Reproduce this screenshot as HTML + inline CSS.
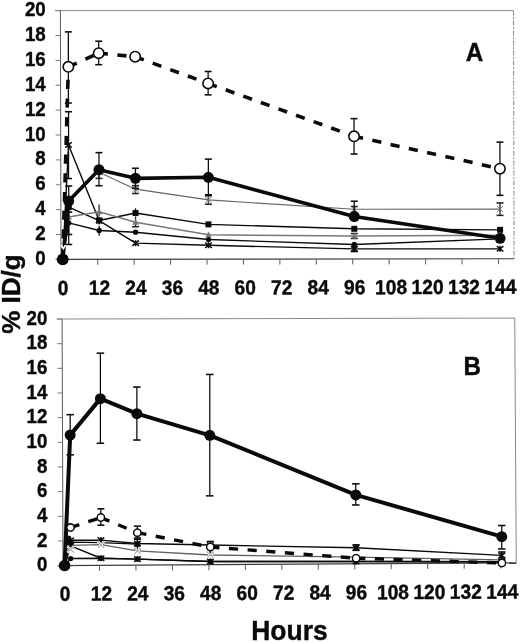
<!DOCTYPE html>
<html><head><meta charset="utf-8"><title>Chart</title>
<style>
html,body{margin:0;padding:0;background:#fff;}
body{width:520px;height:643px;overflow:hidden;}
svg{display:block;filter:grayscale(1);}
text{font-family:"Liberation Sans",sans-serif;font-weight:bold;fill:#0a0a0a;stroke:#0a0a0a;stroke-width:0.38px;}
</style></head><body>
<svg width="520" height="643" viewBox="0 0 520 643">
<rect width="520" height="643" fill="#fff"/>
<g>
<line x1="55.00" y1="10.60" x2="513.50" y2="10.60" stroke="#8a8a8a" stroke-width="1.0" />
<line x1="513.50" y1="10.60" x2="514.10" y2="258.75" stroke="#8a8a8a" stroke-width="1.0" stroke-dasharray="5 1.5 2 1.5"/>
<line x1="60.40" y1="10.60" x2="61.00" y2="259.40" stroke="#5a5a5a" stroke-width="1.0" />
<line x1="55.60" y1="259.40" x2="514.10" y2="258.75" stroke="#3c3c3c" stroke-width="1.15" />
<line x1="56.00" y1="259.40" x2="61.00" y2="259.40" stroke="#7a7a7a" stroke-width="1.0" />
<line x1="55.94" y1="234.52" x2="60.94" y2="234.52" stroke="#7a7a7a" stroke-width="1.0" />
<line x1="55.88" y1="209.64" x2="60.88" y2="209.64" stroke="#7a7a7a" stroke-width="1.0" />
<line x1="55.82" y1="184.76" x2="60.82" y2="184.76" stroke="#7a7a7a" stroke-width="1.0" />
<line x1="55.76" y1="159.88" x2="60.76" y2="159.88" stroke="#7a7a7a" stroke-width="1.0" />
<line x1="55.70" y1="135.00" x2="60.70" y2="135.00" stroke="#7a7a7a" stroke-width="1.0" />
<line x1="55.64" y1="110.12" x2="60.64" y2="110.12" stroke="#7a7a7a" stroke-width="1.0" />
<line x1="55.58" y1="85.24" x2="60.58" y2="85.24" stroke="#7a7a7a" stroke-width="1.0" />
<line x1="55.52" y1="60.36" x2="60.52" y2="60.36" stroke="#7a7a7a" stroke-width="1.0" />
<line x1="55.46" y1="35.48" x2="60.46" y2="35.48" stroke="#7a7a7a" stroke-width="1.0" />
<line x1="55.40" y1="10.60" x2="60.40" y2="10.60" stroke="#7a7a7a" stroke-width="1.0" />
<line x1="61.30" y1="259.40" x2="61.30" y2="264.90" stroke="#5a5a5a" stroke-width="1.0" />
<line x1="97.73" y1="259.35" x2="97.73" y2="264.85" stroke="#5a5a5a" stroke-width="1.0" />
<line x1="134.16" y1="259.30" x2="134.16" y2="264.80" stroke="#5a5a5a" stroke-width="1.0" />
<line x1="170.59" y1="259.24" x2="170.59" y2="264.74" stroke="#5a5a5a" stroke-width="1.0" />
<line x1="207.02" y1="259.19" x2="207.02" y2="264.69" stroke="#5a5a5a" stroke-width="1.0" />
<line x1="243.45" y1="259.14" x2="243.45" y2="264.64" stroke="#5a5a5a" stroke-width="1.0" />
<line x1="279.88" y1="259.09" x2="279.88" y2="264.59" stroke="#5a5a5a" stroke-width="1.0" />
<line x1="316.31" y1="259.03" x2="316.31" y2="264.53" stroke="#5a5a5a" stroke-width="1.0" />
<line x1="352.74" y1="258.98" x2="352.74" y2="264.48" stroke="#5a5a5a" stroke-width="1.0" />
<line x1="389.17" y1="258.93" x2="389.17" y2="264.43" stroke="#5a5a5a" stroke-width="1.0" />
<line x1="425.60" y1="258.88" x2="425.60" y2="264.38" stroke="#5a5a5a" stroke-width="1.0" />
<line x1="462.03" y1="258.82" x2="462.03" y2="264.32" stroke="#5a5a5a" stroke-width="1.0" />
<line x1="498.46" y1="258.77" x2="498.46" y2="264.27" stroke="#5a5a5a" stroke-width="1.0" />
<path d="M98.99 172.28 L135.48 189.16 L208.41 199.90 L354.23 209.30 L500.03 209.14" stroke="#666" stroke-width="1.1" fill="none" stroke-linejoin="round"/>
<line x1="98.99" y1="167.31" x2="98.99" y2="178.38" stroke="#222" stroke-width="1.25" />
<line x1="95.49" y1="167.31" x2="102.49" y2="167.31" stroke="#222" stroke-width="1.55" />
<line x1="95.49" y1="178.38" x2="102.49" y2="178.38" stroke="#222" stroke-width="1.55" />
<line x1="135.48" y1="185.68" x2="135.48" y2="193.51" stroke="#222" stroke-width="1.25" />
<line x1="131.98" y1="185.68" x2="138.98" y2="185.68" stroke="#222" stroke-width="1.55" />
<line x1="131.98" y1="193.51" x2="138.98" y2="193.51" stroke="#222" stroke-width="1.55" />
<line x1="208.41" y1="195.80" x2="208.41" y2="204.25" stroke="#222" stroke-width="1.25" />
<line x1="204.91" y1="195.80" x2="211.91" y2="195.80" stroke="#222" stroke-width="1.55" />
<line x1="204.91" y1="204.25" x2="211.91" y2="204.25" stroke="#222" stroke-width="1.55" />
<line x1="354.23" y1="206.45" x2="354.23" y2="209.55" stroke="#222" stroke-width="1.25" />
<line x1="350.73" y1="206.45" x2="357.73" y2="206.45" stroke="#222" stroke-width="1.55" />
<line x1="500.03" y1="202.93" x2="500.03" y2="215.34" stroke="#222" stroke-width="1.25" />
<line x1="496.53" y1="202.93" x2="503.53" y2="202.93" stroke="#222" stroke-width="1.55" />
<line x1="496.53" y1="215.34" x2="503.53" y2="215.34" stroke="#222" stroke-width="1.55" />
<path d="M95.99 169.28 L101.99 175.28 M95.99 175.28 L101.99 169.28 M98.99 168.98 L98.99 175.58" stroke="#666" stroke-width="0.9" fill="none"/>
<path d="M132.48 186.16 L138.48 192.16 M132.48 192.16 L138.48 186.16 M135.48 185.86 L135.48 192.46" stroke="#666" stroke-width="0.9" fill="none"/>
<path d="M205.41 196.90 L211.41 202.90 M205.41 202.90 L211.41 196.90 M208.41 196.60 L208.41 203.20" stroke="#666" stroke-width="0.9" fill="none"/>
<path d="M351.23 206.30 L357.23 212.30 M351.23 212.30 L357.23 206.30 M354.23 206.00 L354.23 212.60" stroke="#666" stroke-width="0.9" fill="none"/>
<path d="M497.03 206.14 L503.03 212.14 M497.03 212.14 L503.03 206.14 M500.03 205.84 L500.03 212.44" stroke="#666" stroke-width="0.9" fill="none"/>
<path d="M62.75 259.40 L68.55 144.95 L99.11 220.54 L135.61 243.13 L208.52 245.27 L354.33 248.92 L500.13 248.84" stroke="#0a0a0a" stroke-width="1.4" fill="none" stroke-linejoin="round"/>
<line x1="68.55" y1="111.73" x2="68.55" y2="178.53" stroke="#0a0a0a" stroke-width="1.25" />
<line x1="65.05" y1="111.73" x2="72.05" y2="111.73" stroke="#0a0a0a" stroke-width="1.55" />
<line x1="65.05" y1="178.53" x2="72.05" y2="178.53" stroke="#0a0a0a" stroke-width="1.55" />
<line x1="354.33" y1="246.56" x2="354.33" y2="251.53" stroke="#0a0a0a" stroke-width="1.25" />
<line x1="350.83" y1="246.56" x2="357.83" y2="246.56" stroke="#0a0a0a" stroke-width="1.55" />
<line x1="350.83" y1="251.53" x2="357.83" y2="251.53" stroke="#0a0a0a" stroke-width="1.55" />
<path d="M65.25 142.25 L71.85 147.65 M65.25 147.65 L71.85 142.25 M68.55 141.95 L68.55 147.95" stroke="#0a0a0a" stroke-width="1.5" fill="none"/>
<path d="M95.81 217.84 L102.41 223.24 M95.81 223.24 L102.41 217.84 M99.11 217.54 L99.11 223.54" stroke="#0a0a0a" stroke-width="1.5" fill="none"/>
<path d="M132.31 240.43 L138.91 245.83 M132.31 245.83 L138.91 240.43 M135.61 240.13 L135.61 246.13" stroke="#0a0a0a" stroke-width="1.5" fill="none"/>
<path d="M205.22 242.57 L211.82 247.97 M205.22 247.97 L211.82 242.57 M208.52 242.27 L208.52 248.27" stroke="#0a0a0a" stroke-width="1.5" fill="none"/>
<path d="M351.03 246.22 L357.63 251.62 M351.03 251.62 L357.63 246.22 M354.33 245.92 L354.33 251.92" stroke="#0a0a0a" stroke-width="1.5" fill="none"/>
<path d="M496.83 246.14 L503.43 251.54 M496.83 251.54 L503.43 246.14 M500.13 245.84 L500.13 251.84" stroke="#0a0a0a" stroke-width="1.5" fill="none"/>
<path d="M62.75 259.40 L68.70 207.14 L99.11 220.54 L135.54 213.04 L208.47 224.39 L354.28 228.80 L500.08 229.86" stroke="#0a0a0a" stroke-width="1.4" fill="none" stroke-linejoin="round"/>
<line x1="68.72" y1="186.00" x2="68.72" y2="244.46" stroke="#0a0a0a" stroke-width="1.25" />
<line x1="65.22" y1="186.00" x2="72.22" y2="186.00" stroke="#0a0a0a" stroke-width="1.55" />
<line x1="65.22" y1="244.46" x2="72.22" y2="244.46" stroke="#0a0a0a" stroke-width="1.55" />
<line x1="99.11" y1="217.06" x2="99.11" y2="224.52" stroke="#0a0a0a" stroke-width="1.25" />
<line x1="135.54" y1="208.31" x2="135.54" y2="215.77" stroke="#0a0a0a" stroke-width="1.25" />
<rect x="65.70" y="204.14" width="6.0" height="6.0" fill="#0a0a0a"/>
<rect x="96.11" y="217.54" width="6.0" height="6.0" fill="#0a0a0a"/>
<rect x="132.54" y="210.04" width="6.0" height="6.0" fill="#0a0a0a"/>
<rect x="205.47" y="221.39" width="6.0" height="6.0" fill="#0a0a0a"/>
<rect x="351.28" y="225.80" width="6.0" height="6.0" fill="#0a0a0a"/>
<rect x="497.08" y="226.86" width="6.0" height="6.0" fill="#0a0a0a"/>
<path d="M62.75 259.40 L68.72 217.09 L99.09 211.83 L135.56 222.24 L208.49 234.83 L354.29 236.00 L500.09 235.19" stroke="#787878" stroke-width="1.5" fill="none" stroke-linejoin="round"/>
<line x1="99.08" y1="204.62" x2="99.08" y2="216.44" stroke="#222" stroke-width="1.25" />
<line x1="135.56" y1="216.39" x2="135.56" y2="226.71" stroke="#222" stroke-width="1.25" />
<line x1="132.06" y1="226.71" x2="139.06" y2="226.71" stroke="#222" stroke-width="1.55" />
<line x1="354.29" y1="233.52" x2="354.29" y2="238.49" stroke="#222" stroke-width="1.25" />
<line x1="350.79" y1="233.52" x2="357.79" y2="233.52" stroke="#222" stroke-width="1.55" />
<line x1="350.79" y1="238.49" x2="357.79" y2="238.49" stroke="#222" stroke-width="1.55" />
<path d="M68.72 213.79 L72.02 219.57 L65.42 219.57 Z" fill="#787878"/>
<path d="M99.09 208.53 L102.39 214.31 L95.79 214.31 Z" fill="#787878"/>
<path d="M135.56 218.94 L138.86 224.71 L132.26 224.71 Z" fill="#787878"/>
<path d="M208.49 231.53 L211.79 237.30 L205.19 237.30 Z" fill="#787878"/>
<path d="M354.29 232.70 L357.59 238.48 L350.99 238.48 Z" fill="#787878"/>
<path d="M500.09 231.89 L503.39 237.67 L496.79 237.67 Z" fill="#787878"/>
<path d="M62.75 259.40 L68.74 222.94 L99.13 230.49 L135.58 232.19 L208.50 239.55 L354.31 244.45 L500.10 238.92" stroke="#0a0a0a" stroke-width="1.4" fill="none" stroke-linejoin="round"/>
<line x1="68.74" y1="212.12" x2="68.74" y2="234.51" stroke="#0a0a0a" stroke-width="1.25" />
<line x1="65.24" y1="212.12" x2="72.24" y2="212.12" stroke="#0a0a0a" stroke-width="1.55" />
<line x1="65.24" y1="234.51" x2="72.24" y2="234.51" stroke="#0a0a0a" stroke-width="1.55" />
<line x1="99.13" y1="225.76" x2="99.13" y2="235.71" stroke="#0a0a0a" stroke-width="1.25" />
<circle cx="68.74" cy="222.94" r="2.65" fill="#0a0a0a"/>
<circle cx="99.13" cy="230.49" r="2.65" fill="#0a0a0a"/>
<circle cx="135.58" cy="232.19" r="2.65" fill="#0a0a0a"/>
<circle cx="208.50" cy="239.55" r="2.65" fill="#0a0a0a"/>
<circle cx="354.31" cy="244.45" r="2.65" fill="#0a0a0a"/>
<circle cx="500.10" cy="238.92" r="2.65" fill="#0a0a0a"/>
<path d="M62.75 259.40 L68.68 201.05 L98.98 169.67 L135.45 178.34 L208.35 177.28 L354.25 216.51 L500.10 238.30" stroke="#0a0a0a" stroke-width="3.6" fill="none" stroke-linejoin="round"/>
<line x1="98.98" y1="152.63" x2="98.98" y2="185.72" stroke="#0a0a0a" stroke-width="1.25" />
<line x1="95.48" y1="152.63" x2="102.48" y2="152.63" stroke="#0a0a0a" stroke-width="1.55" />
<line x1="95.48" y1="185.72" x2="102.48" y2="185.72" stroke="#0a0a0a" stroke-width="1.55" />
<line x1="135.45" y1="168.27" x2="135.45" y2="188.42" stroke="#0a0a0a" stroke-width="1.25" />
<line x1="131.95" y1="168.27" x2="138.95" y2="168.27" stroke="#0a0a0a" stroke-width="1.55" />
<line x1="131.95" y1="188.42" x2="138.95" y2="188.42" stroke="#0a0a0a" stroke-width="1.55" />
<line x1="208.35" y1="159.13" x2="208.35" y2="194.80" stroke="#0a0a0a" stroke-width="1.25" />
<line x1="204.85" y1="159.13" x2="211.85" y2="159.13" stroke="#0a0a0a" stroke-width="1.55" />
<line x1="204.85" y1="194.80" x2="211.85" y2="194.80" stroke="#0a0a0a" stroke-width="1.55" />
<line x1="354.23" y1="201.23" x2="354.23" y2="216.51" stroke="#0a0a0a" stroke-width="1.25" />
<line x1="350.73" y1="201.23" x2="357.73" y2="201.23" stroke="#0a0a0a" stroke-width="1.55" />
<circle cx="62.75" cy="259.40" r="5.5" fill="#0a0a0a"/>
<circle cx="68.68" cy="201.05" r="5.5" fill="#0a0a0a"/>
<circle cx="98.98" cy="169.67" r="5.5" fill="#0a0a0a"/>
<circle cx="135.45" cy="178.34" r="5.5" fill="#0a0a0a"/>
<circle cx="208.35" cy="177.28" r="5.5" fill="#0a0a0a"/>
<circle cx="354.25" cy="216.51" r="5.5" fill="#0a0a0a"/>
<circle cx="500.10" cy="238.30" r="5.5" fill="#0a0a0a"/>
<line x1="62.75" y1="259.40" x2="68.36" y2="66.83" stroke="#0a0a0a" stroke-width="3.6" stroke-dasharray="9.2 9.5" stroke-dashoffset="-2.2"/>
<line x1="68.36" y1="66.83" x2="98.70" y2="53.14" stroke="#0a0a0a" stroke-width="3.6" stroke-dasharray="9.2 9.5"/>
<line x1="98.70" y1="53.14" x2="135.16" y2="56.73" stroke="#0a0a0a" stroke-width="3.6" stroke-dasharray="9.2 9.5"/>
<line x1="135.16" y1="56.73" x2="208.13" y2="83.44" stroke="#0a0a0a" stroke-width="3.6" stroke-dasharray="9.2 9.5"/>
<line x1="208.13" y1="83.44" x2="354.05" y2="136.28" stroke="#0a0a0a" stroke-width="3.6" stroke-dasharray="9.2 9.5"/>
<line x1="354.05" y1="136.28" x2="499.93" y2="168.68" stroke="#0a0a0a" stroke-width="3.6" stroke-dasharray="9.2 9.5"/>
<line x1="68.36" y1="31.87" x2="68.36" y2="103.03" stroke="#0a0a0a" stroke-width="1.25" />
<line x1="64.86" y1="31.87" x2="71.86" y2="31.87" stroke="#0a0a0a" stroke-width="1.55" />
<line x1="64.86" y1="103.03" x2="71.86" y2="103.03" stroke="#0a0a0a" stroke-width="1.55" />
<line x1="98.70" y1="41.20" x2="98.70" y2="64.70" stroke="#0a0a0a" stroke-width="1.25" />
<line x1="95.20" y1="41.20" x2="102.20" y2="41.20" stroke="#0a0a0a" stroke-width="1.55" />
<line x1="95.20" y1="64.70" x2="102.20" y2="64.70" stroke="#0a0a0a" stroke-width="1.55" />
<line x1="208.13" y1="71.50" x2="208.13" y2="94.87" stroke="#0a0a0a" stroke-width="1.25" />
<line x1="204.63" y1="71.50" x2="211.63" y2="71.50" stroke="#0a0a0a" stroke-width="1.55" />
<line x1="204.63" y1="94.87" x2="211.63" y2="94.87" stroke="#0a0a0a" stroke-width="1.55" />
<line x1="354.05" y1="118.64" x2="354.05" y2="154.04" stroke="#0a0a0a" stroke-width="1.25" />
<line x1="350.55" y1="118.64" x2="357.55" y2="118.64" stroke="#0a0a0a" stroke-width="1.55" />
<line x1="350.55" y1="154.04" x2="357.55" y2="154.04" stroke="#0a0a0a" stroke-width="1.55" />
<line x1="499.93" y1="142.13" x2="499.93" y2="195.36" stroke="#0a0a0a" stroke-width="1.25" />
<line x1="496.43" y1="142.13" x2="503.43" y2="142.13" stroke="#0a0a0a" stroke-width="1.55" />
<line x1="496.43" y1="195.36" x2="503.43" y2="195.36" stroke="#0a0a0a" stroke-width="1.55" />
<circle cx="68.36" cy="66.83" r="5.2" fill="#fff" stroke="#0a0a0a" stroke-width="1.6"/>
<circle cx="98.70" cy="53.14" r="5.2" fill="#fff" stroke="#0a0a0a" stroke-width="1.6"/>
<circle cx="135.16" cy="56.73" r="5.2" fill="#fff" stroke="#0a0a0a" stroke-width="1.6"/>
<circle cx="208.13" cy="83.44" r="5.2" fill="#fff" stroke="#0a0a0a" stroke-width="1.6"/>
<circle cx="354.05" cy="136.28" r="5.2" fill="#fff" stroke="#0a0a0a" stroke-width="1.6"/>
<circle cx="499.93" cy="168.68" r="5.2" fill="#fff" stroke="#0a0a0a" stroke-width="1.6"/>
<path d="M61.3 245 L63.4 248.6 L65.6 245" stroke="#fff" stroke-width="1.6" fill="none"/>
<circle cx="62.75" cy="259.40" r="5.885000000000001" fill="#0a0a0a"/>
</g>
<text transform="translate(45.70 265.00) scale(0.975 1.06)" font-size="19.2" text-anchor="end" >0</text>
<text transform="translate(45.70 240.12) scale(0.975 1.06)" font-size="19.2" text-anchor="end" >2</text>
<text transform="translate(45.70 215.24) scale(0.975 1.06)" font-size="19.2" text-anchor="end" >4</text>
<text transform="translate(45.70 190.36) scale(0.975 1.06)" font-size="19.2" text-anchor="end" >6</text>
<text transform="translate(45.70 165.48) scale(0.975 1.06)" font-size="19.2" text-anchor="end" >8</text>
<text transform="translate(45.70 140.60) scale(0.975 1.06)" font-size="19.2" text-anchor="end" >10</text>
<text transform="translate(45.70 115.72) scale(0.975 1.06)" font-size="19.2" text-anchor="end" >12</text>
<text transform="translate(45.70 90.84) scale(0.975 1.06)" font-size="19.2" text-anchor="end" >14</text>
<text transform="translate(45.70 65.96) scale(0.975 1.06)" font-size="19.2" text-anchor="end" >16</text>
<text transform="translate(45.70 41.08) scale(0.975 1.06)" font-size="19.2" text-anchor="end" >18</text>
<text transform="translate(45.70 16.20) scale(0.975 1.06)" font-size="19.2" text-anchor="end" >20</text>
<g transform="rotate(-0.137 63 294.9)">
<text transform="translate(63.05 294.90) scale(1.0 1.06)" font-size="19.2" text-anchor="middle" >0</text>
<text transform="translate(99.50 294.90) scale(1.0 1.06)" font-size="19.2" text-anchor="middle" >12</text>
<text transform="translate(135.95 294.90) scale(1.0 1.06)" font-size="19.2" text-anchor="middle" >24</text>
<text transform="translate(172.40 294.90) scale(1.0 1.06)" font-size="19.2" text-anchor="middle" >36</text>
<text transform="translate(208.85 294.90) scale(1.0 1.06)" font-size="19.2" text-anchor="middle" >48</text>
<text transform="translate(245.30 294.90) scale(1.0 1.06)" font-size="19.2" text-anchor="middle" >60</text>
<text transform="translate(281.75 294.90) scale(1.0 1.06)" font-size="19.2" text-anchor="middle" >72</text>
<text transform="translate(318.20 294.90) scale(1.0 1.06)" font-size="19.2" text-anchor="middle" >84</text>
<text transform="translate(354.65 294.90) scale(1.0 1.06)" font-size="19.2" text-anchor="middle" >96</text>
<text transform="translate(391.10 294.90) scale(1.0 1.06)" font-size="19.2" text-anchor="middle" >108</text>
<text transform="translate(427.55 294.90) scale(1.0 1.06)" font-size="19.2" text-anchor="middle" >120</text>
<text transform="translate(464.00 294.90) scale(1.0 1.06)" font-size="19.2" text-anchor="middle" >132</text>
<text transform="translate(500.45 294.90) scale(1.0 1.06)" font-size="19.2" text-anchor="middle" >144</text>
</g>
<text transform="translate(474.40 61.00) scale(0.95 1.0)" font-size="25.5" text-anchor="middle" stroke-width="0.35">A</text>
<g>
<line x1="56.70" y1="319.00" x2="514.75" y2="318.10" stroke="#8a8a8a" stroke-width="1.0" />
<line x1="514.75" y1="318.10" x2="516.25" y2="562.90" stroke="#8a8a8a" stroke-width="1.0" />
<line x1="62.10" y1="319.00" x2="63.00" y2="565.60" stroke="#5a5a5a" stroke-width="1.0" />
<line x1="57.60" y1="565.60" x2="516.25" y2="562.90" stroke="#3c3c3c" stroke-width="1.15" />
<line x1="58.00" y1="565.60" x2="63.00" y2="565.60" stroke="#7a7a7a" stroke-width="1.0" />
<line x1="57.91" y1="540.94" x2="62.91" y2="540.94" stroke="#7a7a7a" stroke-width="1.0" />
<line x1="57.82" y1="516.28" x2="62.82" y2="516.28" stroke="#7a7a7a" stroke-width="1.0" />
<line x1="57.73" y1="491.62" x2="62.73" y2="491.62" stroke="#7a7a7a" stroke-width="1.0" />
<line x1="57.64" y1="466.96" x2="62.64" y2="466.96" stroke="#7a7a7a" stroke-width="1.0" />
<line x1="57.55" y1="442.30" x2="62.55" y2="442.30" stroke="#7a7a7a" stroke-width="1.0" />
<line x1="57.46" y1="417.64" x2="62.46" y2="417.64" stroke="#7a7a7a" stroke-width="1.0" />
<line x1="57.37" y1="392.98" x2="62.37" y2="392.98" stroke="#7a7a7a" stroke-width="1.0" />
<line x1="57.28" y1="368.32" x2="62.28" y2="368.32" stroke="#7a7a7a" stroke-width="1.0" />
<line x1="57.19" y1="343.66" x2="62.19" y2="343.66" stroke="#7a7a7a" stroke-width="1.0" />
<line x1="57.10" y1="319.00" x2="62.10" y2="319.00" stroke="#7a7a7a" stroke-width="1.0" />
<line x1="63.00" y1="565.60" x2="63.00" y2="571.10" stroke="#5a5a5a" stroke-width="1.0" />
<line x1="99.47" y1="565.38" x2="99.47" y2="570.88" stroke="#5a5a5a" stroke-width="1.0" />
<line x1="135.94" y1="565.17" x2="135.94" y2="570.67" stroke="#5a5a5a" stroke-width="1.0" />
<line x1="172.41" y1="564.95" x2="172.41" y2="570.45" stroke="#5a5a5a" stroke-width="1.0" />
<line x1="208.88" y1="564.73" x2="208.88" y2="570.23" stroke="#5a5a5a" stroke-width="1.0" />
<line x1="245.35" y1="564.51" x2="245.35" y2="570.01" stroke="#5a5a5a" stroke-width="1.0" />
<line x1="281.82" y1="564.30" x2="281.82" y2="569.80" stroke="#5a5a5a" stroke-width="1.0" />
<line x1="318.29" y1="564.08" x2="318.29" y2="569.58" stroke="#5a5a5a" stroke-width="1.0" />
<line x1="354.76" y1="563.86" x2="354.76" y2="569.36" stroke="#5a5a5a" stroke-width="1.0" />
<line x1="391.23" y1="563.64" x2="391.23" y2="569.14" stroke="#5a5a5a" stroke-width="1.0" />
<line x1="427.70" y1="563.43" x2="427.70" y2="568.93" stroke="#5a5a5a" stroke-width="1.0" />
<line x1="464.17" y1="563.21" x2="464.17" y2="568.71" stroke="#5a5a5a" stroke-width="1.0" />
<line x1="500.64" y1="562.99" x2="500.64" y2="568.49" stroke="#5a5a5a" stroke-width="1.0" />
<path d="M64.60 565.59 L70.60 545.34 L100.96 544.67 L137.43 550.87 L210.32 555.00 L356.10 557.10 L501.88 559.92" stroke="#606060" stroke-width="1.3" fill="none" stroke-linejoin="round"/>
<path d="M64.60 565.59 L70.60 545.83 L101.01 558.23 L137.46 559.12 L210.35 561.52 L356.12 561.52 L501.89 561.76" stroke="#0a0a0a" stroke-width="1.4" fill="none" stroke-linejoin="round"/>
<path d="M67.30 543.13 L73.90 548.53 M67.30 548.53 L73.90 543.13 M70.60 542.83 L70.60 548.83" stroke="#0a0a0a" stroke-width="1.5" fill="none"/>
<path d="M97.71 555.53 L104.31 560.93 M97.71 560.93 L104.31 555.53 M101.01 555.23 L101.01 561.23" stroke="#0a0a0a" stroke-width="1.5" fill="none"/>
<path d="M134.16 556.42 L140.76 561.82 M134.16 561.82 L140.76 556.42 M137.46 556.12 L137.46 562.12" stroke="#0a0a0a" stroke-width="1.5" fill="none"/>
<path d="M207.05 558.82 L213.65 564.22 M207.05 564.22 L213.65 558.82 M210.35 558.52 L210.35 564.52" stroke="#0a0a0a" stroke-width="1.5" fill="none"/>
<path d="M352.82 558.82 L359.42 564.22 M352.82 564.22 L359.42 558.82 M356.12 558.52 L356.12 564.52" stroke="#0a0a0a" stroke-width="1.5" fill="none"/>
<path d="M498.59 559.06 L505.19 564.46 M498.59 564.46 L505.19 559.06 M501.89 558.76 L501.89 564.76" stroke="#0a0a0a" stroke-width="1.5" fill="none"/>
<path d="M64.60 565.59 L70.65 558.53 L101.01 558.23 L137.46 559.12 L210.35 561.52 L356.12 561.52 L501.89 561.76" stroke="#0a0a0a" stroke-width="1.4" fill="none" stroke-linejoin="round"/>
<circle cx="70.65" cy="558.53" r="2.65" fill="#0a0a0a"/>
<circle cx="101.01" cy="558.23" r="2.65" fill="#0a0a0a"/>
<circle cx="137.46" cy="559.12" r="2.65" fill="#0a0a0a"/>
<circle cx="210.35" cy="561.52" r="2.65" fill="#0a0a0a"/>
<circle cx="356.12" cy="561.52" r="2.65" fill="#0a0a0a"/>
<circle cx="501.89" cy="561.76" r="2.65" fill="#0a0a0a"/>
<path d="M64.60 565.59 L70.58 540.28 L100.94 540.11 L137.40 543.48 L210.28 545.04 L356.05 547.78 L501.85 555.39" stroke="#0a0a0a" stroke-width="1.4" fill="none" stroke-linejoin="round"/>
<line x1="356.05" y1="544.83" x2="356.05" y2="550.35" stroke="#0a0a0a" stroke-width="1.25" />
<line x1="352.55" y1="544.83" x2="359.55" y2="544.83" stroke="#0a0a0a" stroke-width="1.55" />
<line x1="352.55" y1="550.35" x2="359.55" y2="550.35" stroke="#0a0a0a" stroke-width="1.55" />
<line x1="501.85" y1="551.97" x2="501.85" y2="558.09" stroke="#0a0a0a" stroke-width="1.25" />
<line x1="498.35" y1="551.97" x2="505.35" y2="551.97" stroke="#0a0a0a" stroke-width="1.55" />
<line x1="498.35" y1="558.09" x2="505.35" y2="558.09" stroke="#0a0a0a" stroke-width="1.55" />
<line x1="137.40" y1="538.06" x2="137.40" y2="549.15" stroke="#0a0a0a" stroke-width="1.25" />
<line x1="133.90" y1="538.06" x2="140.90" y2="538.06" stroke="#0a0a0a" stroke-width="1.55" />
<line x1="133.90" y1="549.15" x2="140.90" y2="549.15" stroke="#0a0a0a" stroke-width="1.55" />
<path d="M67.28 537.58 L73.88 542.98 M67.28 542.98 L73.88 537.58 M70.58 537.28 L70.58 543.28" stroke="#0a0a0a" stroke-width="1.5" fill="none"/>
<path d="M97.64 537.41 L104.24 542.81 M97.64 542.81 L104.24 537.41 M100.94 537.11 L100.94 543.11" stroke="#0a0a0a" stroke-width="1.5" fill="none"/>
<path d="M134.10 540.78 L140.70 546.18 M134.10 546.18 L140.70 540.78 M137.40 540.48 L137.40 546.48" stroke="#0a0a0a" stroke-width="1.5" fill="none"/>
<path d="M206.98 542.34 L213.58 547.74 M206.98 547.74 L213.58 542.34 M210.28 542.04 L210.28 548.04" stroke="#0a0a0a" stroke-width="1.5" fill="none"/>
<path d="M352.75 545.08 L359.35 550.48 M352.75 550.48 L359.35 545.08 M356.05 544.78 L356.05 550.78" stroke="#0a0a0a" stroke-width="1.5" fill="none"/>
<path d="M498.55 552.69 L505.15 558.09 M498.55 558.09 L505.15 552.69 M501.85 552.39 L501.85 558.39" stroke="#0a0a0a" stroke-width="1.5" fill="none"/>
<path d="M64.60 565.59 L70.59 542.13 L100.95 542.58 L137.40 544.22" stroke="#0a0a0a" stroke-width="1.2" fill="none" stroke-linejoin="round"/>
<rect x="67.89" y="539.43" width="5.4" height="5.4" fill="#0a0a0a"/>
<rect x="98.25" y="539.88" width="5.4" height="5.4" fill="#0a0a0a"/>
<rect x="134.70" y="541.52" width="5.4" height="5.4" fill="#0a0a0a"/>
<line x1="64.60" y1="565.59" x2="70.53" y2="527.58" stroke="#0a0a0a" stroke-width="3.4" stroke-dasharray="9.2 9.5" stroke-dashoffset="-2.2"/>
<line x1="70.53" y1="527.58" x2="100.86" y2="517.56" stroke="#0a0a0a" stroke-width="3.4" stroke-dasharray="9.2 9.5"/>
<line x1="100.86" y1="517.56" x2="137.35" y2="532.64" stroke="#0a0a0a" stroke-width="3.4" stroke-dasharray="9.2 9.5"/>
<line x1="137.35" y1="532.64" x2="210.29" y2="547.01" stroke="#0a0a0a" stroke-width="3.4" stroke-dasharray="9.2 9.5"/>
<line x1="210.29" y1="547.01" x2="356.10" y2="558.21" stroke="#0a0a0a" stroke-width="3.4" stroke-dasharray="9.2 9.5"/>
<line x1="356.10" y1="558.21" x2="501.90" y2="562.99" stroke="#0a0a0a" stroke-width="3.4" stroke-dasharray="9.2 9.5"/>
<line x1="100.86" y1="508.81" x2="100.86" y2="525.20" stroke="#0a0a0a" stroke-width="1.25" />
<line x1="97.36" y1="508.81" x2="104.36" y2="508.81" stroke="#0a0a0a" stroke-width="1.55" />
<line x1="97.36" y1="525.20" x2="104.36" y2="525.20" stroke="#0a0a0a" stroke-width="1.55" />
<line x1="137.35" y1="526.12" x2="137.35" y2="539.29" stroke="#0a0a0a" stroke-width="1.25" />
<line x1="133.85" y1="526.12" x2="140.85" y2="526.12" stroke="#0a0a0a" stroke-width="1.55" />
<line x1="133.85" y1="539.29" x2="140.85" y2="539.29" stroke="#0a0a0a" stroke-width="1.55" />
<line x1="210.29" y1="541.47" x2="210.29" y2="552.42" stroke="#0a0a0a" stroke-width="1.25" />
<line x1="206.79" y1="541.47" x2="213.79" y2="541.47" stroke="#0a0a0a" stroke-width="1.55" />
<line x1="206.79" y1="552.42" x2="213.79" y2="552.42" stroke="#0a0a0a" stroke-width="1.55" />
<circle cx="70.53" cy="527.58" r="3.6" fill="#fff" stroke="#0a0a0a" stroke-width="1.3"/>
<circle cx="100.86" cy="517.56" r="3.6" fill="#fff" stroke="#0a0a0a" stroke-width="1.3"/>
<circle cx="137.35" cy="532.64" r="3.6" fill="#fff" stroke="#0a0a0a" stroke-width="1.3"/>
<circle cx="210.29" cy="547.01" r="3.6" fill="#fff" stroke="#0a0a0a" stroke-width="1.3"/>
<circle cx="356.10" cy="558.21" r="3.6" fill="#fff" stroke="#0a0a0a" stroke-width="1.3"/>
<circle cx="501.90" cy="562.99" r="3.6" fill="#fff" stroke="#0a0a0a" stroke-width="1.3"/>
<path d="M64.60 565.59 L70.19 435.12 L100.40 398.65 L136.87 413.68 L209.79 435.32 L355.77 494.89 L501.74 536.66" stroke="#0a0a0a" stroke-width="4.0" fill="none" stroke-linejoin="round"/>
<line x1="70.19" y1="414.65" x2="70.19" y2="454.84" stroke="#0a0a0a" stroke-width="1.25" />
<line x1="66.44" y1="414.65" x2="73.94" y2="414.65" stroke="#0a0a0a" stroke-width="1.55" />
<line x1="66.44" y1="454.84" x2="73.94" y2="454.84" stroke="#0a0a0a" stroke-width="1.55" />
<line x1="100.40" y1="353.18" x2="100.40" y2="443.26" stroke="#0a0a0a" stroke-width="1.25" />
<line x1="96.65" y1="353.18" x2="104.15" y2="353.18" stroke="#0a0a0a" stroke-width="1.55" />
<line x1="96.65" y1="443.26" x2="104.15" y2="443.26" stroke="#0a0a0a" stroke-width="1.55" />
<line x1="136.87" y1="387.08" x2="136.87" y2="440.03" stroke="#0a0a0a" stroke-width="1.25" />
<line x1="133.12" y1="387.08" x2="140.62" y2="387.08" stroke="#0a0a0a" stroke-width="1.55" />
<line x1="133.12" y1="440.03" x2="140.62" y2="440.03" stroke="#0a0a0a" stroke-width="1.55" />
<line x1="209.79" y1="374.43" x2="209.79" y2="495.84" stroke="#0a0a0a" stroke-width="1.25" />
<line x1="206.04" y1="374.43" x2="213.54" y2="374.43" stroke="#0a0a0a" stroke-width="1.55" />
<line x1="206.04" y1="495.84" x2="213.54" y2="495.84" stroke="#0a0a0a" stroke-width="1.55" />
<line x1="355.77" y1="483.84" x2="355.77" y2="504.95" stroke="#0a0a0a" stroke-width="1.25" />
<line x1="352.02" y1="483.84" x2="359.52" y2="483.84" stroke="#0a0a0a" stroke-width="1.55" />
<line x1="352.02" y1="504.95" x2="359.52" y2="504.95" stroke="#0a0a0a" stroke-width="1.55" />
<line x1="501.74" y1="525.52" x2="501.74" y2="548.91" stroke="#0a0a0a" stroke-width="1.25" />
<line x1="497.99" y1="525.52" x2="505.49" y2="525.52" stroke="#0a0a0a" stroke-width="1.55" />
<line x1="497.99" y1="548.91" x2="505.49" y2="548.91" stroke="#0a0a0a" stroke-width="1.55" />
<circle cx="64.60" cy="565.59" r="5.5" fill="#0a0a0a"/>
<circle cx="70.19" cy="435.12" r="5.5" fill="#0a0a0a"/>
<circle cx="100.40" cy="398.65" r="5.5" fill="#0a0a0a"/>
<circle cx="136.87" cy="413.68" r="5.5" fill="#0a0a0a"/>
<circle cx="209.79" cy="435.32" r="5.5" fill="#0a0a0a"/>
<circle cx="355.77" cy="494.89" r="5.5" fill="#0a0a0a"/>
<circle cx="501.74" cy="536.66" r="5.5" fill="#0a0a0a"/>
<path d="M67.41 546.33 L73.81 552.73 M67.41 552.73 L73.81 546.33" stroke="#fff" stroke-width="2.6" fill="none"/>
<path d="M67.41 546.33 L73.81 552.73 M67.41 552.73 L73.81 546.33" stroke="#a8a8a8" stroke-width="1.1" fill="none"/>
<path d="M97.76 541.47 L104.16 547.87 M97.76 547.87 L104.16 541.47" stroke="#fff" stroke-width="2.6" fill="none"/>
<path d="M97.76 541.47 L104.16 547.87 M97.76 547.87 L104.16 541.47" stroke="#a8a8a8" stroke-width="1.1" fill="none"/>
<path d="M134.23 547.67 L140.63 554.07 M134.23 554.07 L140.63 547.67" stroke="#fff" stroke-width="2.6" fill="none"/>
<path d="M134.23 547.67 L140.63 554.07 M134.23 554.07 L140.63 547.67" stroke="#a8a8a8" stroke-width="1.1" fill="none"/>
<path d="M207.12 551.80 L213.52 558.20 M207.12 558.20 L213.52 551.80" stroke="#fff" stroke-width="2.6" fill="none"/>
<path d="M207.12 551.80 L213.52 558.20 M207.12 558.20 L213.52 551.80" stroke="#a8a8a8" stroke-width="1.1" fill="none"/>
<circle cx="70.53" cy="527.58" r="3.6" fill="#fff" stroke="#0a0a0a" stroke-width="1.3"/>
<circle cx="100.86" cy="517.56" r="3.6" fill="#fff" stroke="#0a0a0a" stroke-width="1.3"/>
<circle cx="137.35" cy="532.64" r="3.6" fill="#fff" stroke="#0a0a0a" stroke-width="1.3"/>
<circle cx="210.29" cy="547.01" r="3.6" fill="#fff" stroke="#0a0a0a" stroke-width="1.3"/>
<circle cx="356.10" cy="558.21" r="3.6" fill="#fff" stroke="#0a0a0a" stroke-width="1.3"/>
<circle cx="501.90" cy="562.99" r="3.6" fill="#fff" stroke="#0a0a0a" stroke-width="1.3"/>
<circle cx="64.60" cy="565.59" r="5.665" fill="#0a0a0a"/>
</g>
<text transform="translate(47.30 571.40) scale(0.975 1.06)" font-size="19.2" text-anchor="end" >0</text>
<text transform="translate(47.30 546.74) scale(0.975 1.06)" font-size="19.2" text-anchor="end" >2</text>
<text transform="translate(47.30 522.08) scale(0.975 1.06)" font-size="19.2" text-anchor="end" >4</text>
<text transform="translate(47.30 497.42) scale(0.975 1.06)" font-size="19.2" text-anchor="end" >6</text>
<text transform="translate(47.30 472.76) scale(0.975 1.06)" font-size="19.2" text-anchor="end" >8</text>
<text transform="translate(47.30 448.10) scale(0.975 1.06)" font-size="19.2" text-anchor="end" >10</text>
<text transform="translate(47.30 423.44) scale(0.975 1.06)" font-size="19.2" text-anchor="end" >12</text>
<text transform="translate(47.30 398.78) scale(0.975 1.06)" font-size="19.2" text-anchor="end" >14</text>
<text transform="translate(47.30 374.12) scale(0.975 1.06)" font-size="19.2" text-anchor="end" >16</text>
<text transform="translate(47.30 349.46) scale(0.975 1.06)" font-size="19.2" text-anchor="end" >18</text>
<text transform="translate(47.30 324.80) scale(0.975 1.06)" font-size="19.2" text-anchor="end" >20</text>
<g transform="rotate(-0.275 65 600.7)">
<text transform="translate(65.00 600.70) scale(1.0 1.06)" font-size="19.2" text-anchor="middle" >0</text>
<text transform="translate(101.44 600.70) scale(1.0 1.06)" font-size="19.2" text-anchor="middle" >12</text>
<text transform="translate(137.88 600.70) scale(1.0 1.06)" font-size="19.2" text-anchor="middle" >24</text>
<text transform="translate(174.32 600.70) scale(1.0 1.06)" font-size="19.2" text-anchor="middle" >36</text>
<text transform="translate(210.77 600.70) scale(1.0 1.06)" font-size="19.2" text-anchor="middle" >48</text>
<text transform="translate(247.21 600.70) scale(1.0 1.06)" font-size="19.2" text-anchor="middle" >60</text>
<text transform="translate(283.65 600.70) scale(1.0 1.06)" font-size="19.2" text-anchor="middle" >72</text>
<text transform="translate(320.09 600.70) scale(1.0 1.06)" font-size="19.2" text-anchor="middle" >84</text>
<text transform="translate(356.53 600.70) scale(1.0 1.06)" font-size="19.2" text-anchor="middle" >96</text>
<text transform="translate(392.97 600.70) scale(1.0 1.06)" font-size="19.2" text-anchor="middle" >108</text>
<text transform="translate(429.42 600.70) scale(1.0 1.06)" font-size="19.2" text-anchor="middle" >120</text>
<text transform="translate(465.86 600.70) scale(1.0 1.06)" font-size="19.2" text-anchor="middle" >132</text>
<text transform="translate(502.30 600.70) scale(1.0 1.06)" font-size="19.2" text-anchor="middle" >144</text>
</g>
<text transform="translate(472.30 374.90) scale(0.94 1.0)" font-size="25.8" text-anchor="middle" stroke-width="0.35">B</text>
<text transform="translate(251.20 639.70) scale(1.0 1.04)" font-size="26.5" text-anchor="start" stroke-width="0.3">Hours</text>
<text transform="translate(20 333.8) rotate(-90)" font-size="26" stroke-width="0.3" text-anchor="start">% ID/g</text>
</svg>
</body></html>
